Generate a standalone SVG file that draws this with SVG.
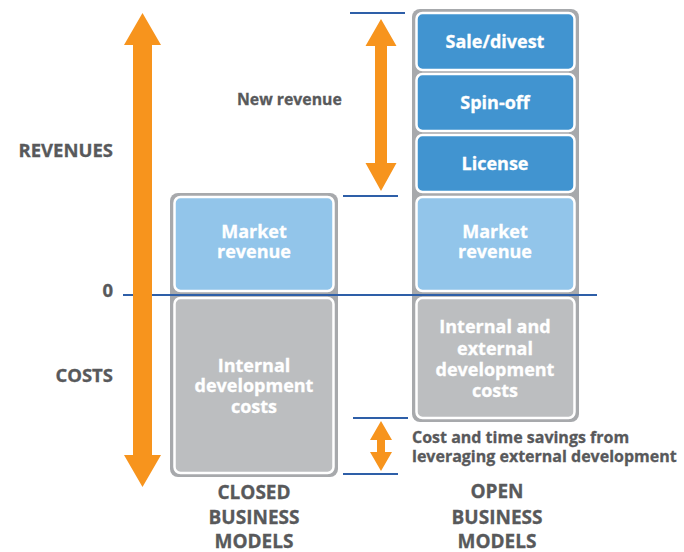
<svg xmlns="http://www.w3.org/2000/svg" width="684" height="552" viewBox="0 0 684 552">
<style>
.lbl{font-family:"Open Sans","Liberation Sans",sans-serif;font-weight:bold;fill:#58595B;stroke:#58595B;stroke-width:0.3}
.in{font-family:"Open Sans","Liberation Sans",sans-serif;font-weight:bold;fill:#FFFFFF;stroke:#FFFFFF;stroke-width:0.3;text-anchor:middle;font-size:18px}
.frame{fill:#A7A9AC}
.dark{fill:#4194D0;stroke:#FFFFFF;stroke-width:2.5}
.light{fill:#92C5EA;stroke:#FFFFFF;stroke-width:2.5}
.grey{fill:#BCBEC0;stroke:#FFFFFF;stroke-width:2.5}
.bl{stroke:#2E5FA8;stroke-width:2.2;fill:none}
.arr{fill:#F7941D}
</style>
<rect width="684" height="552" fill="#FFFFFF"/>

<g id="axis-labels">
<text class="lbl" x="113" y="157" text-anchor="end" font-size="18.5">REVENUES</text>
<text class="lbl" x="113" y="297" text-anchor="end" font-size="18.5">0</text>
<text class="lbl" x="113" y="382" text-anchor="end" font-size="18.5">COSTS</text>
</g>

<g id="closed-column">
<rect class="frame" x="170" y="193" width="168" height="284" rx="8"/>
<rect class="light" x="174.5" y="197" width="159" height="94" rx="6"/>
<text class="in" x="254" y="238">Market</text>
<text class="in" x="254" y="258">revenue</text>
<rect class="grey" x="174.5" y="298" width="159" height="175" rx="6"/>
<text class="in" x="254" y="372">Internal</text>
<text class="in" x="254" y="392">development</text>
<text class="in" x="254" y="413">costs</text>
</g>

<g id="open-column">
<rect class="frame" x="412" y="9" width="167" height="413" rx="8"/>
<rect class="dark" x="416.5" y="13" width="158" height="57" rx="6"/>
<text class="in" x="495" y="48">Sale/divest</text>
<rect class="dark" x="416.5" y="74" width="158" height="57" rx="6"/>
<text class="in" x="495" y="109">Spin-off</text>
<rect class="dark" x="416.5" y="135" width="158" height="57" rx="6"/>
<text class="in" x="495" y="170">License</text>
<rect class="light" x="416.5" y="197" width="158" height="94" rx="6"/>
<text class="in" x="495" y="238">Market</text>
<text class="in" x="495" y="258">revenue</text>
<rect class="grey" x="416.5" y="298" width="158" height="120" rx="6"/>
<text class="in" x="495" y="333">Internal and</text>
<text class="in" x="495" y="355">external</text>
<text class="in" x="495" y="376">development</text>
<text class="in" x="495" y="397">costs</text>
</g>

<g id="connectors">
<line class="bl" x1="123" y1="295" x2="597" y2="295"/>
<line class="bl" x1="350" y1="13" x2="405" y2="13"/>
<line class="bl" x1="343" y1="196" x2="398" y2="196"/>
<line class="bl" x1="353" y1="418" x2="408" y2="418"/>
<line class="bl" x1="343" y1="474" x2="398" y2="474"/>
<polygon class="arr" points="142.5,13 161,45 152,45 152,455 161,455 142.5,487 124,455 133,455 133,45 124,45"/>
<polygon class="arr" points="381,19 396.5,46 387,46 387,163 396.5,163 381,191 365.5,163 375,163 375,46 365.5,46"/>
<polygon class="arr" points="381,421 392,440 385,440 385,452 392,452 381,471 370,452 377,452 377,440 370,440"/>
</g>

<g id="notes">
<text class="lbl" x="237" y="105" font-size="15.8">New revenue</text>
<text class="lbl" x="412" y="443" font-size="16">Cost and time savings from</text>
<text class="lbl" x="412" y="462" font-size="16">leveraging external development</text>
</g>

<g id="column-titles">
<text class="lbl" x="254" y="499" text-anchor="middle" font-size="19">CLOSED</text>
<text class="lbl" x="254" y="524" text-anchor="middle" font-size="19">BUSINESS</text>
<text class="lbl" x="254" y="548" text-anchor="middle" font-size="19">MODELS</text>
<text class="lbl" x="497" y="498" text-anchor="middle" font-size="19">OPEN</text>
<text class="lbl" x="497" y="524" text-anchor="middle" font-size="19">BUSINESS</text>
<text class="lbl" x="497" y="548" text-anchor="middle" font-size="19">MODELS</text>
</g>
</svg>
